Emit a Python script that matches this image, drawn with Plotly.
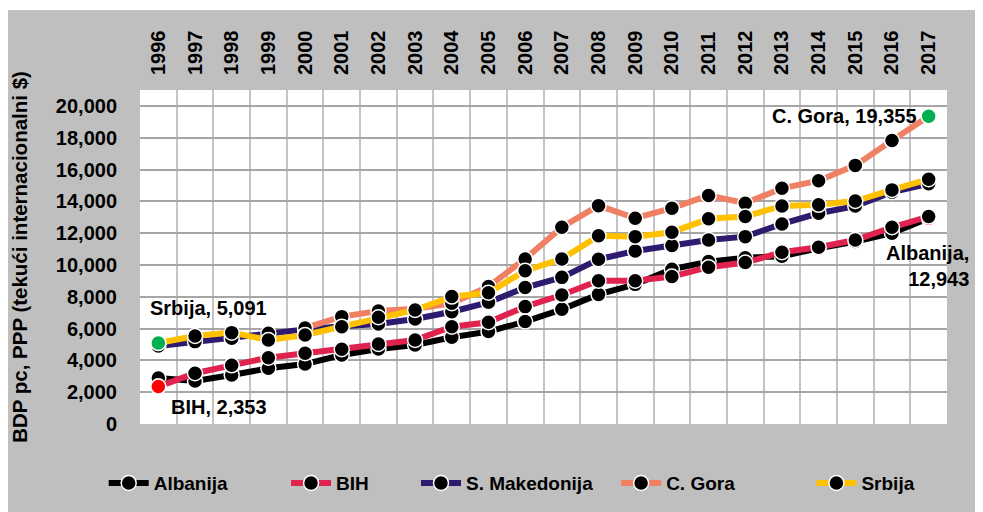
import plotly.graph_objects as go

years = list(range(1996, 2018))
albanija = [2890, 2700, 3080, 3500, 3770, 4340, 4720, 4970, 5450, 5810, 6440, 7210, 8150, 8780, 9730, 10210, 10450, 10550, 11050, 11470, 12000, 12943]
bih = [2353, 3190, 3690, 4170, 4450, 4700, 5030, 5280, 6120, 6400, 7380, 8110, 9010, 9010, 9270, 9860, 10150, 10800, 11110, 11570, 12370, 13040]
makedonija = [4900, 5180, 5390, 5700, 5950, 6150, 6290, 6600, 7060, 7650, 8580, 9220, 10360, 10880, 11220, 11570, 11780, 12580, 13250, 13700, 14580, 15100]
cgora = [None, None, None, None, 6040, 6750, 7100, 7250, 7590, 8640, 10380, 12370, 13730, 12940, 13570, 14370, 13880, 14820, 15300, 16260, 17820, 19355]
srbija = [5091, 5535, 5745, 5280, 5600, 6120, 6710, 7170, 8010, 8250, 9640, 10380, 11830, 11780, 12060, 12900, 13050, 13710, 13780, 14020, 14720, 15390]

names = ["Albanija", "BIH", "S. Makedonija", "C. Gora", "Srbija"]
colors = ["#000000", "#E0234E", "#2E1A6E", "#F08064", "#FFC000"]
series = [albanija, bih, makedonija, cgora, srbija]

FONT = "Liberation Sans, Arial, sans-serif"

fig = go.Figure()
legend_x = [-0.045, 0.181, 0.342, 0.590, 0.832]

# highlighted points: (series index, point index, colour)
highlights = {0: [(21, "#FF0000")], 1: [(0, "#FF0000")], 3: [(21, "#00B050")], 4: [(0, "#00B050")]}

for i, (name, col, vals) in enumerate(zip(names, colors, series)):
    lg = "legend" if i == 0 else f"legend{i+1}"
    fig.add_trace(go.Scatter(
        x=years, y=vals, name=name, mode="lines+markers",
        line=dict(color=col, width=6),
        marker=dict(color="black", size=15, line=dict(color="white", width=1.5)),
        legend=lg, connectgaps=False,
    ))
    for (pi, hc) in highlights.get(i, []):
        fig.add_trace(go.Scatter(
            x=[years[pi]], y=[vals[pi]], mode="markers", showlegend=False,
            marker=dict(color=hc, size=15, line=dict(color="white", width=1.5)),
        ))

legend_common = dict(orientation="h", yanchor="middle", y=-0.177, xanchor="left",
                     bgcolor="rgba(0,0,0,0)",
                     font=dict(family=FONT, size=19, color="black", weight="bold"),
                     itemwidth=40, tracegroupgap=0)
layout_legends = {}
for i in range(5):
    key = "legend" if i == 0 else f"legend{i+1}"
    layout_legends[key] = dict(legend_common, x=legend_x[i])

fig.update_layout(
    width=983, height=512,
    margin=dict(l=132, r=44, t=82, b=96),
    paper_bgcolor="white",
    plot_bgcolor="rgba(0,0,0,0)",
    font=dict(family=FONT, size=19, color="black"),
    showlegend=True,
    **layout_legends,
)

fig.update_xaxes(
    type="linear", side="top", range=[1995.5, 2017.5], automargin=False,
    tickmode="array", tickvals=years, ticktext=[str(y) for y in years],
    tickangle=-90, ticks="", showgrid=False, zeroline=False,
    tickfont=dict(family=FONT, size=20, color="black", weight="bold"),
    ticklabelstandoff=14,
    minor=dict(tickmode="array", tickvals=[y - 0.5 for y in years] + [years[-1] + 0.5],
               showgrid=True, gridcolor="#C4C4C4", gridwidth=2, ticks=""),
)
fig.update_yaxes(
    range=[0, 21000], tick0=0, dtick=2000, tickformat=",", automargin=False,
    showgrid=True, gridcolor="#A6A6A6", gridwidth=2, zeroline=False,
    tickfont=dict(family=FONT, size=20, color="black", weight="bold"),
    ticklabelstandoff=22,
    title=dict(text="BDP pc, PPP (tekući internacionalni $)",
               font=dict(family=FONT, size=20.5, color="black", weight="bold"), standoff=24),
)

fig.add_shape(type="rect", xref="paper", yref="paper", x0=-0.2, x1=1.1, y0=-0.35, y1=1.2395,
              fillcolor="#BFBFBF", line=dict(width=0), layer="below")
fig.add_shape(type="rect", xref="paper", yref="paper", x0=0, x1=1, y0=0, y1=1,
              fillcolor="white", line=dict(width=0), layer="below")

afont = dict(family=FONT, size=20, color="black", weight="bold")
fig.add_annotation(x=years[-1], y=cgora[-1], text=f"C. Gora, {cgora[-1]:,}", showarrow=False,
                   xanchor="right", yanchor="middle", xshift=-10, font=afont)
fig.add_annotation(x=years[-1], y=albanija[-1], text=f"Albanija,<br>{albanija[-1]:,}", showarrow=False,
                   xanchor="right", yanchor="top", xshift=42, yshift=-22, align="right", font=afont)
fig.add_annotation(x=years[0], y=srbija[0], text=f"Srbija, {srbija[0]:,}", showarrow=False,
                   xanchor="left", yanchor="middle", xshift=-10, yshift=35, font=afont)
fig.add_annotation(x=years[0], y=bih[0], text=f"BIH, {bih[0]:,}", showarrow=False,
                   xanchor="left", yanchor="middle", xshift=11, yshift=-20, font=afont)

fig.write_html("out.html")
